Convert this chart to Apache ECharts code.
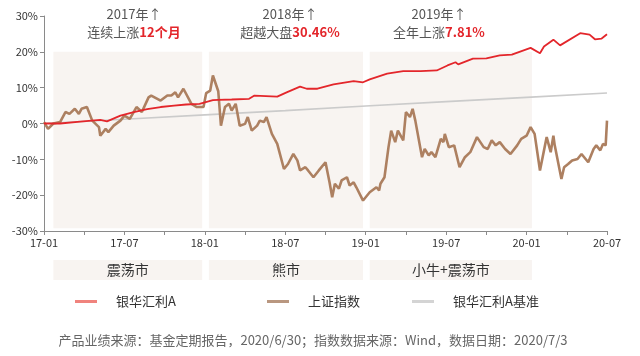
<!DOCTYPE html>
<html>
<head>
<meta charset="utf-8">
<script src="https://cdn.jsdelivr.net/npm/echarts@6/dist/echarts.min.js"></script>
<style>
html,body{margin:0;padding:0;background:#fff;}
#c{width:640px;height:356px;}
</style>
</head>
<body>
<div id="c"></div>
<script>
// x values are months since 2017-01
const xTickLabels = ['17-01','17-07','18-01','18-07','19-01','19-07','20-01','20-07'];
const yTickValues = [-30,-20,-10,0,10,20,30];

const fundName = '银华汇利A';
const indexName = '上证指数';
const benchName = '银华汇利A基准';

const fundT = [0,1.2,2.7,4.2,4.7,5.7,6.7,7.7,8.7,9.7,10.6,11.6,12.6,13.0,14.0,15.3,15.7,17.4,18.1,19.1,19.6,20.4,21.6,23.1,23.8,24.3,25.6,26.8,28.1,29.3,30.1,30.7,30.9,32.0,33.0,34.0,34.9,36.3,37.0,37.3,38.0,38.5,40.0,40.7,41.1,41.6,42.0];
const fundV = [0,0,0.5,1.0,0.6,2.2,3.2,4.0,4.6,5.0,5.3,5.5,6.5,6.6,6.7,6.9,7.8,7.5,8.7,10.3,9.7,9.7,10.9,11.8,11.5,12.3,13.9,14.6,14.6,14.8,16.2,17.1,16.5,18.1,18.2,19.0,19.2,21.1,19.6,21.5,23.4,21.8,25.2,24.8,23.5,23.7,24.9];

const indexT = [0,0.3,0.7,1.2,1.6,1.9,2.3,2.6,2.8,3.2,3.6,4.1,4.2,4.6,4.8,5.2,5.7,6.0,6.4,6.9,7.3,7.8,8.0,8.7,9.2,9.5,9.8,10.0,10.4,11.0,11.4,11.9,12.1,12.4,12.6,13.0,13.2,13.5,13.8,14.0,14.3,14.6,15.0,15.2,15.5,15.9,16.1,16.4,16.6,17.0,17.4,17.9,18.2,18.6,18.9,19.1,19.5,19.7,20.1,20.5,21.0,21.3,21.5,21.7,22.0,22.2,22.6,22.8,23.1,23.3,23.8,24.3,24.8,25.0,25.1,25.4,25.7,25.9,26.2,26.4,26.8,27.0,27.3,27.5,27.7,28.2,28.4,28.7,28.9,29.2,29.6,29.8,29.9,30.2,30.6,31.0,31.4,31.8,32.3,32.8,33.1,33.4,33.7,34.0,34.4,34.8,35.3,35.6,36.0,36.3,36.6,37.0,37.3,37.5,37.8,38.0,38.1,38.6,38.8,39.1,39.4,39.8,40.1,40.6,41.0,41.2,41.5,41.7,41.9,42.0];
const indexV = [0.4,-1.5,0,0.4,3.2,2.7,4.1,2.7,4.1,4.6,0.8,-1.0,-3.4,-1.5,-2.4,-0.6,0.8,2.2,1.3,4.6,3.2,7.3,7.8,6.4,7.8,7.8,8.7,7.3,9.7,5.5,4.6,4.6,8.5,9.2,13.4,9.0,-0.6,4.6,5.5,3.6,5.5,-0.6,-0.1,1.8,-2.0,-0.6,0.8,0.4,1.8,-2.9,-5.7,-12.7,-11.3,-8.5,-10.3,-13.1,-12.2,-13.1,-15.0,-13.1,-10.8,-16.4,-20.6,-16.8,-18.2,-15.9,-15.0,-17.3,-16.4,-17.8,-21.5,-19.2,-17.8,-18.7,-16.8,-15.0,-6.6,-2.0,-5.2,-2.0,-4.7,3.2,1.8,4.1,0.8,-9.4,-7.1,-8.9,-8.0,-9.4,-4.3,-5.2,-2.9,-6.6,-6.1,-12.2,-9.4,-8.0,-3.8,-6.6,-7.1,-4.7,-6.1,-5.2,-7.1,-8.5,-6.1,-4.3,-3.4,-1.0,-2.9,-13.1,-7.5,-3.8,-8.0,-3.4,-6.1,-15.5,-12.2,-11.3,-10.3,-9.9,-8.5,-10.8,-7.1,-6.1,-7.5,-5.7,-6.1,0.8];

const benchT = [0,6,12,18,24,30,36,42];
const benchV = [0,1.2,2.4,3.6,4.9,6.1,7.3,8.5];

// market regimes (start month, end month)
const regimeNames = ['震荡市','熊市','小牛+震荡市'];
const regimeStart = [0.7,12.3,24.3];
const regimeEnd = [11.8,23.8,36.4];

const yearTitles = ['2017年↑','2018年↑','2019年↑'];
const yearPrefix = ['连续上涨','超越大盘','全年上涨'];
const yearHighlight = ['12个月','30.46%','7.81%'];

const zip = (t, v) => t.map((x, i) => [x, v[i]]);

const FONT = '"Noto Sans CJK SC", "Noto Sans", sans-serif';
const RED = '#e3262b', BROWN = '#ad8061', GREY = '#cbcbcb', SHADE = '#f8f4f1';

const chart = echarts.init(document.getElementById('c'));

const shadeData = regimeStart.map((s, i) => [{xAxis: s, yAxis: 20}, {xAxis: regimeEnd[i], yAxis: -29.2}]);
const boxData = regimeStart.map((s, i) => [{name: regimeNames[i], xAxis: s, yAxis: 0}, {xAxis: regimeEnd[i], yAxis: 1}]);

const legendBase = {
  top: 290, orient: 'horizontal', itemWidth: 22, itemHeight: 3, icon: 'rect',
  selectedMode: false,
  textStyle: {fontSize: 13, color: '#333', fontFamily: FONT, padding: [0, 0, 0, 14]}
};

chart.setOption({
  animation: false,
  textStyle: {fontFamily: FONT},
  grid: [
    {left: 44, right: 33, top: 16, bottom: 125},
    {left: 44, right: 33, top: 260, height: 20}
  ],
  legend: [
    Object.assign({}, legendBase, {left: 70, data: [{name: fundName, itemStyle: {color: '#f0837d'}}]}),
    Object.assign({}, legendBase, {left: 262, data: [{name: indexName, itemStyle: {color: '#b99780'}}]}),
    Object.assign({}, legendBase, {left: 407, data: [{name: benchName, itemStyle: {color: '#d4d4d4'}}]})
  ],
  xAxis: [
    {
      type: 'value', gridIndex: 0, min: 0, max: 42, interval: 3,
      axisLine: {show: true, onZero: false, lineStyle: {color: '#8a8a8a', width: 1}},
      axisTick: {show: true, length: 4, lineStyle: {color: '#8a8a8a'}},
      splitLine: {show: false},
      axisLabel: {
        color: '#333', fontSize: 11, margin: 6, fontFamily: FONT,
        formatter: v => (v % 6 === 0 ? xTickLabels[v / 6] : '')
      }
    },
    {type: 'value', gridIndex: 1, min: 0, max: 42, show: false}
  ],
  yAxis: [
    {
      type: 'value', gridIndex: 0, min: yTickValues[0], max: yTickValues[yTickValues.length - 1], interval: 10,
      axisLine: {show: true, lineStyle: {color: '#8a8a8a', width: 1}},
      axisTick: {show: true, length: 4, lineStyle: {color: '#8a8a8a'}},
      splitLine: {show: false},
      axisLabel: {color: '#333', fontSize: 11, margin: 6, fontFamily: FONT, formatter: '{value}%'}
    },
    {type: 'value', gridIndex: 1, min: 0, max: 1, show: false}
  ],
  series: [
    {
      type: 'line', name: 'shade', data: [], silent: true, z: 0,
      markArea: {silent: true, itemStyle: {color: SHADE}, data: shadeData}
    },
    {
      type: 'line', name: 'boxes', xAxisIndex: 1, yAxisIndex: 1, data: [], silent: true,
      markArea: {
        silent: true, itemStyle: {color: SHADE},
        label: {show: true, position: 'inside', color: '#333', fontSize: 14, fontFamily: FONT},
        data: boxData
      }
    },
    {
      type: 'line', name: benchName, data: zip(benchT, benchV), showSymbol: false, z: 2,
      lineStyle: {color: GREY, width: 1.6}, itemStyle: {color: GREY}
    },
    {
      type: 'line', name: indexName, data: zip(indexT, indexV), showSymbol: false, z: 3,
      lineStyle: {color: BROWN, width: 2.6}, itemStyle: {color: BROWN}
    },
    {
      type: 'line', name: fundName, data: zip(fundT, fundV), showSymbol: false, z: 4,
      lineStyle: {color: RED, width: 1.8}, itemStyle: {color: RED}
    }
  ],
  graphic: [
    ...[134, 290, 439].map((cx, i) => ({
      type: 'text', left: cx, top: 8, z: 10,
      style: {
        text: yearTitles[i], x: 0, y: 0, textAlign: 'center',
        fill: '#555', font: '13px ' + FONT
      },
      position: [cx, 8], left: undefined, top: undefined
    })),
    ...[134, 290, 439].map((cx, i) => ({
      type: 'text', z: 10, position: [cx, 26],
      style: {
        text: '{a|' + yearPrefix[i] + '}{b|' + yearHighlight[i] + '}',
        textAlign: 'center',
        rich: {
          a: {fill: '#555', fontSize: 13, fontFamily: FONT},
          b: {fill: RED, fontSize: 13, fontFamily: FONT, fontWeight: 'bold'}
        }
      }
    })),
    {
      type: 'text', position: [313, 334], z: 10,
      style: {
        text: '产品业绩来源：基金定期报告，2020/6/30；指数数据来源：Wind，数据日期：2020/7/3',
        textAlign: 'center', fill: '#666', font: '13px ' + FONT
      }
    }
  ]
});
</script>
</body>
</html>
